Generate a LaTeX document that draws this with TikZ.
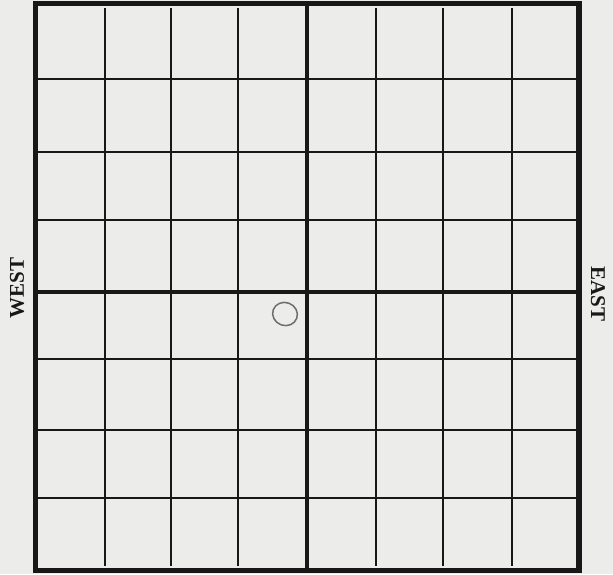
\documentclass[tikz,border=0pt]{standalone}
\usepackage{fontspec}
\setmainfont{Liberation Serif}
\definecolor{paper}{RGB}{236,236,234}
\definecolor{ink}{RGB}{24,24,24}
\definecolor{pencil}{RGB}{110,110,110}
\begin{document}
\begin{tikzpicture}[x=1pt,y=-1pt,
  border/.style={draw=ink,line width=5.5pt},
  thin/.style={draw=ink,line width=2.2pt},
  axis/.style={draw=ink,line width=4pt},
  label/.style={font=\bfseries\fontsize{21}{21}\selectfont,text=ink,inner sep=0pt}]
\fill[paper] (0,0) rectangle (613,574);
\useasboundingbox (0,0) rectangle (613,574);
% thin vertical lines
\foreach \x in {105,171,238,376,443,512}
  \draw[thin] (\x,8) -- (\x,566);
% thin horizontal lines
\foreach \y in {79,152,220,359,430,498}
  \draw[thin] (36,\y) -- (579,\y);
% axes
\draw[axis] (307,3.5) -- (307,570.5);
\draw[axis] (35.5,292) -- (579,292);
% border
\draw[border] (35.5,3.5) rectangle (579,570.5);
% circle
\draw[pencil,line width=1.5pt,rotate around={-20:(285,314)}] (285,314) ellipse [x radius=12.5pt, y radius=11.5pt];
% labels
\node[label,rotate=90] (west) at (17,288) {WEST};
\node[label,rotate=-90] (east) at (598,294) {EAST};
\end{tikzpicture}
\end{document}
